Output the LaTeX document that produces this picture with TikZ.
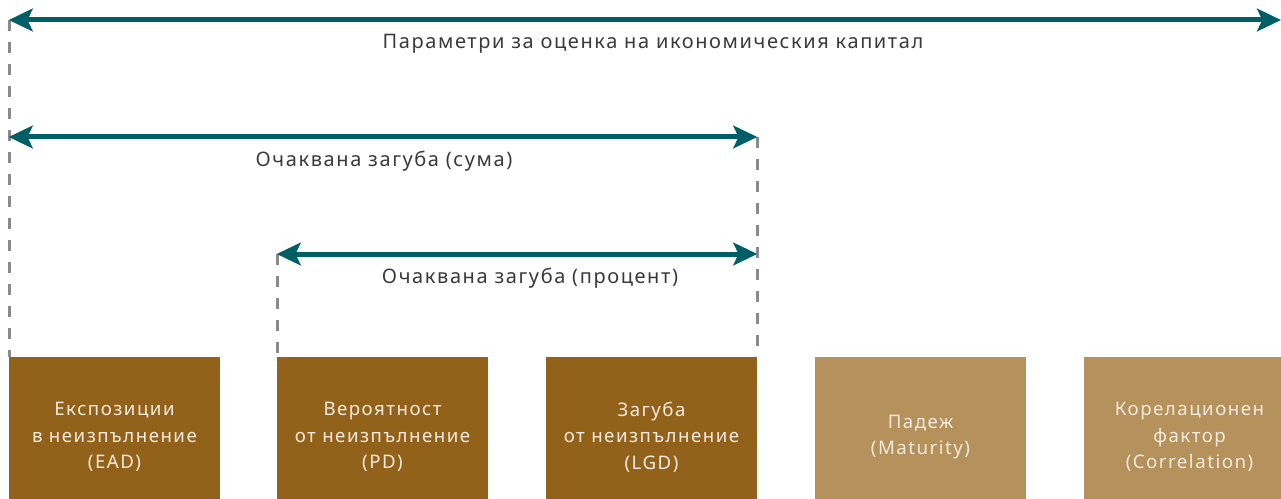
\documentclass[tikz,border=0pt]{standalone}
\usepackage{fontspec}
\setmainfont{Noto Sans}[Language=Bulgarian, LetterSpace=8]
\usetikzlibrary{arrows.meta,positioning}
\definecolor{spanteal}{HTML}{005F66}
\definecolor{boxdark}{HTML}{93621A}
\definecolor{boxlight}{HTML}{B5915B}
\definecolor{boxtext}{HTML}{F3EADF}
\definecolor{guidegray}{HTML}{8A8A8A}
\definecolor{lbltext}{HTML}{3A3A3A}

\begin{document}
\begin{tikzpicture}[
  x=0.75pt, y=-0.75pt,
  param/.style={rectangle, minimum width=158.25pt, minimum height=120pt, inner sep=0pt,
    align=center, text=boxtext, font=\fontsize{14}{20}\selectfont},
  core/.style={param, fill=boxdark},
  extra/.style={param, fill=boxlight},
  span/.style={{Stealth[length=18pt,width=17pt,inset=4pt]}-{Stealth[length=18pt,width=17pt,inset=4pt]},
    line width=3.75pt, spanteal},
  guide/.style={guidegray, line width=1.9pt, dash pattern=on 8pt off 8.5pt},
  lbl/.style={text=lbltext, font=\fontsize{15}{18}\selectfont}
]
  \clip (0,0) rectangle (1281,499);
  % parameter boxes
  \node[core]  (ead)  at (114.5,437)  {Експозиции\\в неизпълнение\\(EAD)};
  \node[core]  (pd)   at (382.5,437)  {Вероятност\\от неизпълнение\\(PD)};
  \node[core]  (lgd)  at (651.5,437)  {Загуба\\от неизпълнение\\(LGD)};
  \node[extra] (mat)  at (920.5,437)  {Падеж\\(Maturity)};
  \node[extra] (corr) at (1189.5,437) {Корелационен\\фактор\\(Correlation)};
  % span ends
  \coordinate (capL) at (ead.north west |- 0,20);
  \coordinate (capR) at (1281,20);
  \coordinate (sumL) at (ead.north west |- 0,137);
  \coordinate (sumR) at (lgd.north east |- 0,137);
  \coordinate (pctL) at (pd.north west |- 0,254);
  \coordinate (pctR) at (lgd.north east |- 0,254);
  % guides
  \draw[guide] ([xshift=0.75pt]capL) -- ([xshift=0.75pt]ead.north west);
  \draw[guide] (sumR) -- (lgd.north east);
  \draw[guide] ([xshift=0.75pt]pctL) -- ([xshift=0.75pt]pd.north west);
  % spans
  \draw[span] (capL) -- (capR);
  \draw[span] (sumL) -- (sumR);
  \draw[span] (pctL) -- (pctR);
  \node[lbl] (capT) at (653,44)  {Параметри за оценка на икономическия капитал};
  \node[lbl] (sumT) at (384,161) {Очаквана загуба (сума)};
  \node[lbl] (pctT) at (530,278) {Очаквана загуба (процент)};
\end{tikzpicture}
\end{document}
